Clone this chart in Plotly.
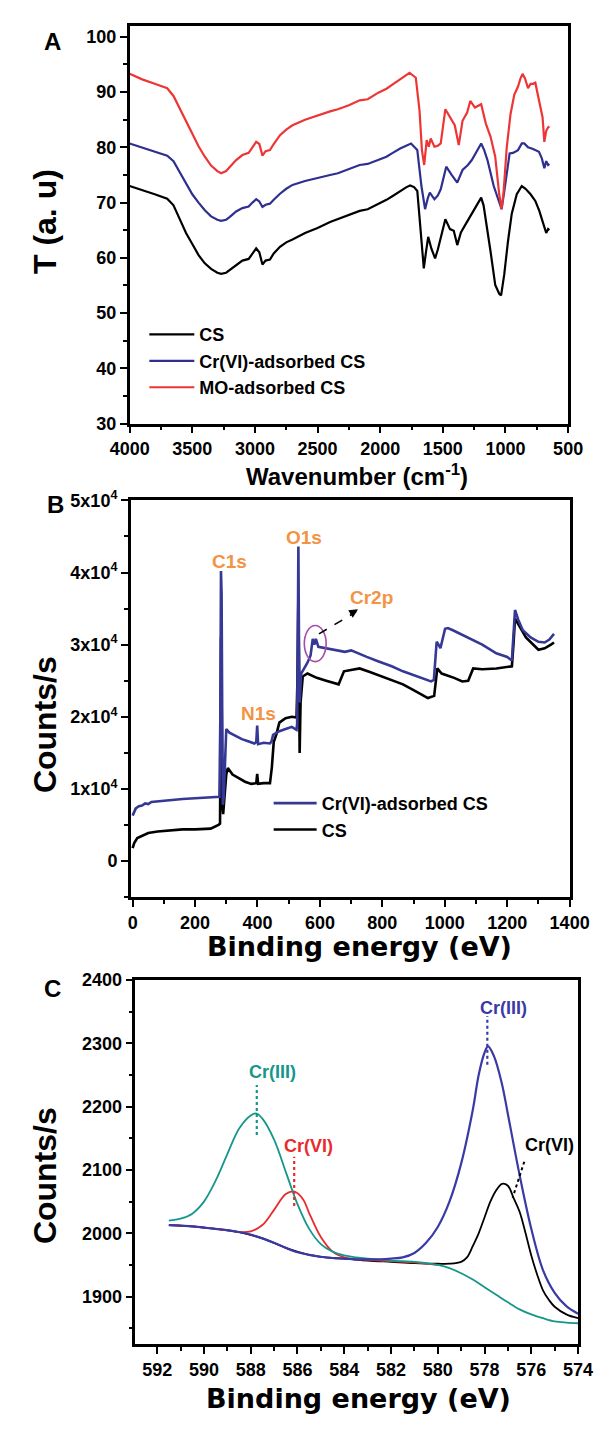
import plotly.graph_objects as go

# ---------------- Panel A : FTIR ----------------
wn_cs = [4000,3900,3800,3700,3650,3600,3550,3500,3450,3400,3350,3300,3270,3230,3200,3150,3100,3050,3020,2990,
         2965,2940,2915,2880,2850,2800,2750,2700,2600,2500,2400,2338,2250,2164,2100,2015,1950,1900,1841,1790,
         1761,1730,1704,1679,1652,1635,1617,1592,1562,1540,1517,1480,1443,1413,1385,1356,1320,1294,1244,1194,
         1175,1157,1119,1082,1050,1035,1010,980,950,910,870,840,800,762,730,704,690,675,660,650]
t_cs = [73.0,72.3,71.5,70.7,69.5,67.0,64.5,62.5,60.5,59.0,58.0,57.3,57.1,57.3,57.8,58.8,59.5,59.8,60.8,61.7,
        61.0,58.8,59.5,59.7,60.8,62.0,62.8,63.3,64.5,65.4,66.5,67.0,67.8,68.5,68.8,69.7,70.5,71.2,72.1,72.8,
        73.1,72.8,72.1,65.8,58.1,61.0,63.8,61.7,59.9,61.5,63.5,67.0,65.2,64.9,62.3,64.6,66.0,67.0,68.8,70.9,
        69.5,67.0,61.1,55.1,53.5,53.2,57.0,63.0,68.0,71.5,73.0,72.5,71.5,70.3,68.5,66.6,65.5,64.5,65.2,65.0]

wn_cr = [4000,3900,3800,3700,3650,3600,3550,3500,3450,3400,3350,3300,3270,3230,3200,3150,3100,3050,3020,2990,
         2965,2940,2915,2880,2850,2800,2750,2700,2600,2500,2400,2338,2250,2164,2100,2015,1950,1900,1841,1754,
         1704,1671,1642,1620,1604,1567,1540,1517,1473,1430,1385,1343,1300,1269,1230,1194,1170,1144,1094,1060,
         1031,1010,985,967,940,900,870,850,820,780,733,710,690,675,660,650]
t_cr = [80.7,80.0,79.3,78.5,77.5,75.5,73.3,71.5,70.0,68.6,67.5,66.9,66.7,66.9,67.4,68.4,69.0,69.3,70.0,70.6,
        70.2,69.2,69.6,69.8,70.5,71.6,72.5,73.2,73.9,74.5,75.0,75.3,76.0,76.8,77.0,77.7,78.3,79.0,79.8,80.7,
        79.5,73.0,68.8,70.8,71.8,70.6,71.3,72.4,76.5,75.0,73.6,75.9,76.8,77.7,79.2,80.7,79.5,77.7,73.0,70.5,
        68.8,72.0,76.5,78.9,79.0,79.5,80.7,80.7,80.0,79.7,79.2,78.0,76.2,77.5,76.8,77.0]

wn_mo = [4000,3900,3800,3700,3650,3600,3550,3500,3450,3400,3350,3300,3270,3230,3200,3150,3100,3050,3020,2990,
         2965,2940,2915,2880,2850,2800,2750,2700,2600,2500,2400,2338,2250,2164,2100,2015,1950,1900,1841,1766,
         1716,1686,1667,1649,1629,1612,1597,1567,1540,1517,1480,1443,1405,1373,1343,1306,1281,1244,1194,1157,
         1119,1082,1050,1031,1015,990,960,930,900,880,864,845,820,800,780,762,740,720,704,690,675,660,650]
t_mo = [93.3,92.3,91.5,90.7,89.3,87.0,84.6,82.3,80.2,78.3,76.7,75.7,75.3,75.7,76.4,77.7,78.6,79.0,80.0,81.0,
        80.6,78.5,79.3,79.5,80.6,82.2,83.2,84.0,85.0,85.8,86.5,86.9,87.6,88.5,88.7,89.9,90.6,91.4,92.3,93.5,
        92.6,86.6,79.5,76.8,81.3,80.1,81.6,80.1,80.3,80.7,86.9,85.4,84.0,80.4,84.8,86.3,88.4,87.2,87.8,84.3,
        81.9,78.3,71.5,68.8,72.0,80.0,86.0,89.5,91.0,92.5,93.3,92.5,90.7,91.5,91.5,91.7,89.5,87.5,85.4,81.0,
        83.0,83.6,83.8]

a_xticks = [4000, 3500, 3000, 2500, 2000, 1500, 1000, 500]
a_xminor = [3750, 3250, 2750, 2250, 1750, 1250, 750]
a_yticks = [30, 40, 50, 60, 70, 80, 90, 100]
a_yminor = [35, 45, 55, 65, 75, 85, 95]

# ---------------- Panel B : XPS survey ----------------
be_cs = [0,5,15,30,50,80,120,160,200,250,275,280,282,283,285,287,290,295,300,305,
         320,340,360,380,396,399,402,420,440,446,452,460,470,490,510,525,528,531,533,535,
         538,545,560,590,620,660,677,700,727,760,797,830,866,900,946,966,976,990,1006,1030,
         1056,1075,1091,1120,1165,1200,1215,1220,1225,1240,1260,1300,1320,1340,1350]
cps_cs = [1800,2500,3200,3500,3900,4100,4300,4400,4400,4500,5000,5200,20000,31000,25000,8000,6500,9000,12000,12900,
          12000,11500,11000,10700,10800,12100,10700,10800,10800,13000,16500,17500,19200,19800,20000,19900,25000,36800,25000,15000,
          22000,25600,26000,25400,25000,24500,26300,26500,26700,26200,25600,25000,24500,23700,22600,22900,26700,26000,25800,25400,
          24900,25000,26700,26600,26700,26900,27000,30000,33600,32500,31000,29300,29500,30000,30300]

be_cr = [0,5,10,20,30,40,50,60,80,100,130,160,200,240,270,278,281,283,285,287,
         289,292,296,300,310,330,350,370,390,396,399,402,420,440,445,450,470,490,510,525,
         527,529,531,533,535,540,550,560,570,577,582,587,595,620,650,680,700,720,750,786,
         830,866,900,940,956,965,970,974,980,986,1001,1010,1026,1060,1085,1120,1165,1200,1215,1220,
         1225,1235,1250,1275,1300,1320,1335,1350]
cps_cr = [6300,6800,7300,7600,7700,8000,7900,8200,8300,8400,8500,8600,8700,8800,8800,8900,20000,40200,37000,20000,
          7800,9000,15000,18300,17800,17300,16900,16600,16300,16500,18800,16200,16400,16300,16600,17500,18000,18300,18600,18200,
          19000,30000,43600,30000,22000,26000,26700,27500,28500,30800,30000,30800,29700,29500,29200,29000,29200,28800,28300,27700,
          27000,26300,25800,25200,24900,25100,27500,30400,30000,29500,32200,32300,32000,31300,30800,30000,28800,28300,27800,31000,
          34800,33500,32000,31000,30400,30300,30700,31500]

b_xticks = [0, 200, 400, 600, 800, 1000, 1200, 1400]
b_xminor = [100, 300, 500, 700, 900, 1100, 1300]
b_yticks = [0, 10000, 20000, 30000, 40000, 50000]
b_ytext = ["0", "1x10<sup>4</sup>", "2x10<sup>4</sup>", "3x10<sup>4</sup>", "4x10<sup>4</sup>", "5x10<sup>4</sup>"]
b_yminor = [-5000, 5000, 15000, 25000, 35000, 45000]

# ---------------- Panel C : Cr2p high resolution ----------------
c_black_x = [591.5,590.5,589.5,588.5,587.5,586.5,585.5,584.5,584.0,583.0,582.0,581.0,580.0,579.5,579.0,578.75,578.5,578.25,
             578.0,577.75,577.5,577.25,577.0,576.75,576.5,576.25,576.0,575.75,575.5,575.25,575.0,574.5,574.0]
c_black_y = [2013,2011,2007,2002,1992,1977,1966,1961,1960,1957,1955,1953,1952,1952,1955,1962,1980,2000,
             2025,2050,2068,2078,2075,2055,2034,2001,1965,1935,1910,1895,1884,1872,1866]

c_red_x = [591.5,591.0,590.5,590.0,589.5,589.0,588.5,588.0,587.5,587.0,586.5,586.15,585.75,585.5,585.0,584.5,584.0,583.5,
           583.0,582.0,581.0,580.0]
c_red_y = [2013,2012,2011,2009,2007,2005,2002,2003,2013,2037,2062,2066,2053,2032,1994,1971,1962,1959,
           1958,1956,1954,1950]

c_teal_x = [591.5,591.0,590.5,590.0,589.5,589.0,588.5,588.0,587.75,587.5,587.0,586.5,586.0,585.5,585.0,584.5,584.0,583.5,
            583.0,582.0,581.0,580.5,580.0,579.5,579.0,578.5,578.0,577.5,577.0,576.5,576.0,575.5,575.0,574.5,574.0]
c_teal_y = [2020,2023,2031,2050,2083,2125,2165,2186,2189,2181,2148,2097,2046,2007,1983,1971,1965,1962,
            1960,1957,1955,1953,1950,1945,1937,1927,1915,1903,1891,1880,1872,1866,1861,1859,1858]

c_navy_x = [591.5,591.0,590.5,590.0,589.5,589.0,588.5,588.0,587.5,587.0,586.5,586.0,585.5,585.0,584.5,584.0,583.5,583.0,
            582.5,582.0,581.5,581.0,580.5,580.0,579.5,579.0,578.5,578.25,578.0,577.85,577.6,577.25,577.0,576.5,576.0,575.5,
            575.0,574.5,574.0]
c_navy_y = [2013,2012,2011,2009,2007,2005,2002,1998,1992,1985,1977,1970,1966,1963,1961,1960,1959,1959,
            1959,1960,1962,1969,1985,2010,2050,2110,2195,2250,2285,2295,2280,2235,2188,2092,2007,1942,
            1906,1885,1873]

c_xticks = [592, 590, 588, 586, 584, 582, 580, 578, 576, 574]
c_xminor = [591, 589, 587, 585, 583, 581, 579, 577, 575]
c_yticks = [1900, 2000, 2100, 2200, 2300, 2400]
c_yminor = [1850, 1950, 2050, 2150, 2250, 2350]

# ---------------- figure ----------------
W, H = 613, 1429
FONT = "Liberation Sans, Arial, sans-serif"
WIDE = "DejaVu Sans, Verdana, sans-serif"
RED = "#EE3535"
NAVY = "#2E2F8F"
NAVY_B = "#363895"
TEAL = "#16968A"
ORANGE = "#F29345"
CRED = "#E82B2B"
CNAVY = "#3A3AA6"


def pxx(p):
    return p / W


def pxy(p):
    return 1 - p / H


fig = go.Figure()

# Panel A
fig.add_trace(go.Scatter(x=wn_cs, y=t_cs, mode="lines", name="CS", line=dict(color="black", width=2.2),
                         xaxis="x", yaxis="y", legend="legend"))
fig.add_trace(go.Scatter(x=wn_cr, y=t_cr, mode="lines", name="Cr(VI)-adsorbed CS", line=dict(color=NAVY, width=2.2),
                         xaxis="x", yaxis="y", legend="legend"))
fig.add_trace(go.Scatter(x=wn_mo, y=t_mo, mode="lines", name="MO-adsorbed CS", line=dict(color=RED, width=2.2),
                         xaxis="x", yaxis="y", legend="legend"))

# Panel B
fig.add_trace(go.Scatter(x=be_cs, y=cps_cs, mode="lines", name="CS", line=dict(color="black", width=2.6),
                         xaxis="x2", yaxis="y2", legend="legend2"))
fig.add_trace(go.Scatter(x=be_cr, y=cps_cr, mode="lines", name="Cr(VI)-adsorbed CS", line=dict(color=NAVY_B, width=2.6),
                         xaxis="x2", yaxis="y2", legend="legend2"))

# Panel C
fig.add_trace(go.Scatter(x=c_black_x, y=c_black_y, mode="lines", line=dict(color="black", width=1.8, shape="spline"),
                         xaxis="x3", yaxis="y3", showlegend=False))
fig.add_trace(go.Scatter(x=c_red_x, y=c_red_y, mode="lines", line=dict(color=CRED, width=1.8, shape="spline"),
                         xaxis="x3", yaxis="y3", showlegend=False))
fig.add_trace(go.Scatter(x=c_teal_x, y=c_teal_y, mode="lines", line=dict(color=TEAL, width=1.8, shape="spline"),
                         xaxis="x3", yaxis="y3", showlegend=False))
fig.add_trace(go.Scatter(x=c_navy_x, y=c_navy_y, mode="lines", line=dict(color=CNAVY, width=2.2, shape="spline"),
                         xaxis="x3", yaxis="y3", showlegend=False))

tickfont = dict(family=FONT, size=18, color="black", weight="bold")


def main_axis(domain, rng, anchor, tickvals, minorvals, ticktext=None):
    d = dict(domain=domain, range=rng, anchor=anchor, showline=True, linecolor="black", linewidth=2.5,
             mirror=True, ticks="outside", ticklen=7, tickwidth=2, tickcolor="black",
             tickmode="array", tickvals=tickvals, showgrid=False, zeroline=False, tickfont=tickfont,
             minor=dict(tickmode="array", tickvals=minorvals, ticks="outside", ticklen=4, tickwidth=2,
                        tickcolor="black", showgrid=False))
    if ticktext is not None:
        d["ticktext"] = ticktext
    return d


def mirror_axis(overlay, anchor, side, rng, tickvals, minorvals):
    return dict(overlaying=overlay, anchor=anchor, side=side, range=rng, showline=False,
                ticks="inside", ticklen=7, tickwidth=2, tickcolor="black", tickmode="array",
                tickvals=tickvals, showticklabels=False, showgrid=False, zeroline=False,
                minor=dict(tickmode="array", tickvals=minorvals, ticks="inside", ticklen=4, tickwidth=2,
                           tickcolor="black", showgrid=False))


A_x = [pxx(117.3), pxx(586.4)]
A_y = [pxy(418), pxy(14)]
B_x = [pxx(118.5), pxx(588)]
B_y = [pxy(899), pxy(496)]
C_x = [pxx(123.5), pxx(597)]
C_y = [pxy(1353), pxy(983)]

a_xr = [4000, 500]
a_yr = [30, 102]
b_xr = [-6, 1400]
b_yr = [-5000, 50000]
c_xr = [592.93, 574]
c_yr = [1825, 2400]

legfont = dict(family=FONT, size=18, color="black", weight="bold")

fig.update_layout(
    width=W, height=H, autosize=False,
    margin=dict(l=0, r=0, t=0, b=0),
    paper_bgcolor="white", plot_bgcolor="white",
    xaxis=main_axis(A_x, a_xr, "y", a_xticks, a_xminor),
    yaxis=main_axis(A_y, a_yr, "x", a_yticks, a_yminor),
    xaxis2=main_axis(B_x, b_xr, "y2", b_xticks, b_xminor),
    yaxis2=main_axis(B_y, b_yr, "x2", b_yticks, b_yminor, b_ytext),
    xaxis3=main_axis(C_x, c_xr, "y3", c_xticks, c_xminor),
    yaxis3=main_axis(C_y, c_yr, "x3", c_yticks, c_yminor),
    xaxis4=mirror_axis("x", "y", "top", a_xr, a_xticks, a_xminor),
    yaxis4=mirror_axis("y", "x", "right", a_yr, a_yticks, a_yminor),
    xaxis5=mirror_axis("x2", "y2", "top", b_xr, b_xticks, b_xminor),
    yaxis5=mirror_axis("y2", "x2", "right", b_yr, b_yticks, b_yminor),
    xaxis6=mirror_axis("x3", "y3", "top", c_xr, c_xticks, c_xminor),
    yaxis6=mirror_axis("y3", "x3", "right", c_yr, c_yticks, c_yminor),
    legend=dict(x=pxx(133), y=pxy(309), xanchor="left", yanchor="top", bgcolor="rgba(0,0,0,0)",
                font=legfont, tracegroupgap=0, itemwidth=45),
    legend2=dict(x=pxx(266), y=pxy(785), xanchor="left", yanchor="top", bgcolor="rgba(0,0,0,0)",
                 font=legfont, tracegroupgap=0, traceorder="reversed", itemwidth=43),
)

ann = []


def txt(text, x, y, size, family=FONT, angle=0, color="black"):
    ann.append(dict(text=text, x=x, y=y, xref="paper", yref="paper", showarrow=False,
                    xanchor="center", yanchor="middle", textangle=angle,
                    font=dict(family=family, size=size, color=color, weight="bold")))


# panel letters
txt("A", pxx(35), pxy(30), 24)
txt("B", pxx(38), pxy(500), 24)
txt("C", pxx(35), pxy(992), 24)
# axis titles
txt("T (a. u)", pxx(26), pxy(213), 32, angle=-90)
txt("Wavenumber (cm<sup>-1</sup>)", pxx(361), pxy(470), 24)
txt("Counts/s", pxx(27), pxy(724), 32, angle=-90)
txt("Binding energy (eV)", pxx(363), pxy(949), 27, family=WIDE)
txt("Counts/s", pxx(26), pxy(1182), 32, angle=-90)
txt("Binding energy (eV)", pxx(362), pxy(1408), 27, family=WIDE)


def dtxt(text, x, y, xr, yr, color, size=19):
    ann.append(dict(text=text, x=x, y=y, xref=xr, yref=yr, showarrow=False,
                    xanchor="center", yanchor="middle",
                    font=dict(family=FONT, size=size, color=color, weight="bold")))


# panel B peak labels
dtxt("C1s", 310, 41500, "x2", "y2", ORANGE)
dtxt("O1s", 548, 44800, "x2", "y2", ORANGE)
dtxt("N1s", 403, 20500, "x2", "y2", ORANGE)
dtxt("Cr2p", 765, 36500, "x2", "y2", ORANGE)
# panel C labels
dtxt("Cr(III)", 587.05, 2255, "x3", "y3", TEAL, 18)
dtxt("Cr(VI)", 585.52, 2137, "x3", "y3", CRED, 18)
dtxt("Cr(III)", 577.2, 2356, "x3", "y3", CNAVY, 18)
dtxt("Cr(VI)", 575.24, 2139, "x3", "y3", "black", 18)

# arrow head for Cr2p pointer
ann.append(dict(x=722, y=34900, xref="x2", yref="y2", ax=-9, ay=5.5, axref="pixel", ayref="pixel",
                text="", showarrow=True, arrowhead=2, arrowsize=1.1, arrowwidth=1.6, arrowcolor="black"))

fig.update_layout(annotations=ann)

shapes = [
    # ellipse around Cr2p
    dict(type="circle", xref="x2", yref="y2", x0=550, x1=620, y0=27650, y1=32650,
         line=dict(color="#A64CA6", width=1.6)),
    # dashed pointer
    dict(type="line", xref="x2", yref="y2", x0=597, y0=31500, x1=716, y1=34550,
         line=dict(color="black", width=1.6, dash="dash")),
    # dotted peak markers in C
    dict(type="line", xref="x3", yref="y3", x0=587.74, x1=587.74, y0=2155, y1=2234,
         line=dict(color=TEAL, width=2.2, dash="dot")),
    dict(type="line", xref="x3", yref="y3", x0=586.14, x1=586.14, y0=2043, y1=2121,
         line=dict(color=CRED, width=2.2, dash="dot")),
    dict(type="line", xref="x3", yref="y3", x0=577.88, x1=577.88, y0=2266, y1=2343,
         line=dict(color=CNAVY, width=2.2, dash="dot")),
    dict(type="line", xref="x3", yref="y3", x0=576.3, x1=576.8, y0=2113, y1=2056,
         line=dict(color="black", width=2.0, dash="dot")),
]
fig.update_layout(shapes=shapes)

fig.write_html("out.html", config={"displayModeBar": False},
               post_script="document.body.style.margin='0';document.body.style.overflow='hidden';")
